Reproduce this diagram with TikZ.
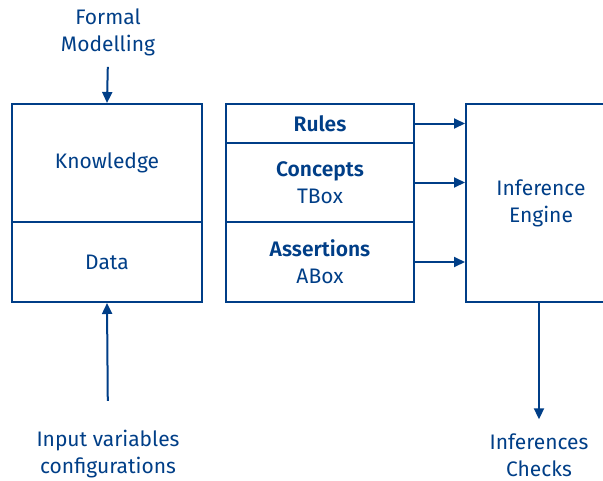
\documentclass[tikz,border=0pt]{standalone}
\usepackage{fontspec}
\setmainfont{Fira Sans}[BoldFont={Fira Sans SemiBold}]
\usetikzlibrary{arrows.meta}

\definecolor{ink}{RGB}{0,62,135}

\tikzset{
    box/.style={draw=ink, line width=2pt, text=ink, align=center, inner sep=0pt},
    lbl/.style={text=ink, align=center, inner sep=2pt},
    arr/.style={draw=ink, line width=2pt, -{Triangle[length=11pt,width=10pt]}},
}

\begin{document}
\begin{tikzpicture}[x=1pt,y=-1pt,font=\fontsize{21}{27}\selectfont]
        \useasboundingbox (0,0) rectangle (603,480);
        % knowledge base on the left
        \node[box, minimum width=190pt, minimum height=118pt] (know) at (107,163) {Knowledge};
        \node[box, minimum width=190pt, minimum height=80pt] (data) at (107,262) {Data};
        % rule base in the middle
        \node[box, minimum width=188pt, minimum height=39pt] (rules) at (320,123.5) {\textbf{Rules}};
        \node[box, minimum width=188pt, minimum height=79pt] (tbox) at (320,182.5) {\textbf{Concepts}\\TBox};
        \node[box, minimum width=188pt, minimum height=80pt] (abox) at (320,262) {\textbf{Assertions}\\ABox};
        % engine, runs off the right edge
        \node[box, minimum width=150pt, minimum height=198pt] (engine) at (541,203) {Inference\\Engine};
        % labels
        \node[lbl] (formal) at (108,32) {Formal\\Modelling};
        \node[lbl] (input) at (108,454) {Input variables\\configurations};
        \node[lbl] (result) at (539,455) {Inferences\\Checks};
        % arrows
        \draw[arr, shorten <=9pt] (formal.south) -- (know.north);
        \draw[arr, shorten <=27pt] (input.north) -- (data.south);
        \foreach \n in {rules, tbox, abox}{
            \draw[arr] (\n.east) -- (\n.east -| engine.west);
        }
        \draw[arr, shorten >=12pt] (engine.south -| result.north) -- (result.north);
    \end{tikzpicture}
\end{document}
